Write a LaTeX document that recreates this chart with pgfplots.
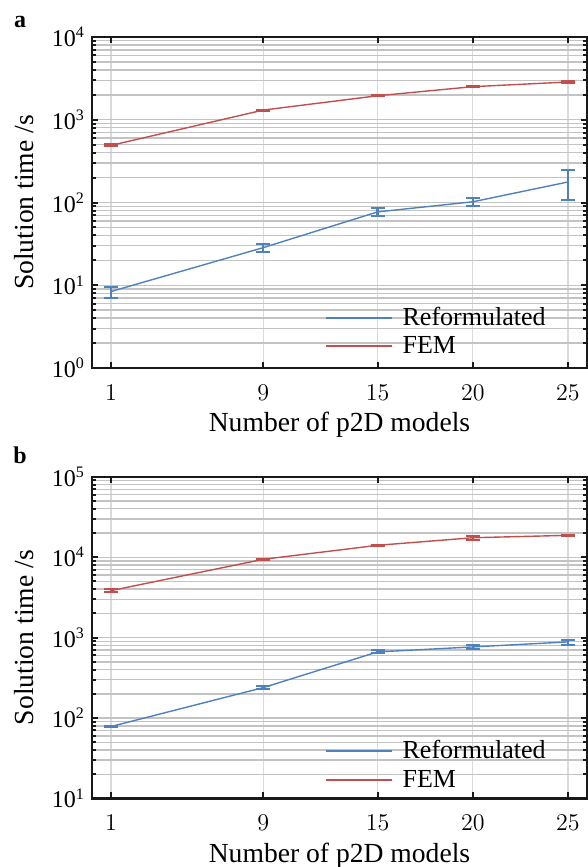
\documentclass[border=0pt]{standalone}
\usepackage{fontspec}
\setmainfont{Liberation Serif}
\usepackage{pgfplots}
\usepackage{pgfplotstable}
\pgfplotsset{compat=1.18}

\definecolor{cblue}{RGB}{79,129,189}
\definecolor{cred}{RGB}{192,80,77}
\definecolor{gridc}{RGB}{195,195,195}
\definecolor{xgridc}{RGB}{218,218,218}

\pgfplotstableread{
x y ep em
1 8.4 1.0 1.4
9 28.5 3.3 3.0
15 77 10 8.5
20 102 12 11
25 177 70 71
}\refA
\pgfplotstableread{
x y ep em
1 490 14 14
9 1310 20 20
15 1950 25 25
20 2510 30 30
25 2860 90 90
}\femA
\pgfplotstableread{
x y ep em
1 78.4 2 2
9 239 8 8
15 664 28 25
20 766 50 48
25 884 60 65
}\refB
\pgfplotstableread{
x y ep em
1 3840 200 200
9 9420 100 100
15 14060 150 150
20 17460 1000 1000
25 18710 300 300
}\femB

\pgfplotsset{
  myax/.style={
    scale only axis, width=247.5pt,
    xmin=0, xmax=26,
    xtick={1,9,15,20,25},
    axis line style={line width=1.3pt, black!90},
    tick style={black!90, line width=1pt},
    major tick length=3pt, minor tick length=2pt,
    ymajorgrids, yminorgrids, xmajorgrids,
    y grid style={gridc, line width=0.7pt},
    x grid style={xgridc, line width=0.6pt},
    tick label style={font=\fontsize{12}{14}\selectfont},
    xticklabel style={yshift=-5pt},
    label style={font=\fontsize{13.8}{16}\selectfont},
    xlabel={Number of p2D models},
    ylabel={Solution time /s},
    xlabel style={yshift=1pt},
    ylabel style={yshift=2pt},
    legend style={draw=none, fill=none, font=\fontsize{13}{15}\selectfont, row sep=0pt,
      cells={anchor=west}},
    legend cell align=left,
  },
  ebB/.style={cblue, line width=0.7pt, forget plot, error bars/.cd, y dir=both, y explicit,
    error bar style={cblue, line width=1.1pt},
    error mark options={cblue, rotate=90, mark size=3.5pt, line width=1pt}},
  ebR/.style={cred, line width=0.7pt, forget plot, error bars/.cd, y dir=both, y explicit,
    error bar style={cred, line width=1.1pt},
    error mark options={cred, rotate=90, mark size=3.5pt, line width=1pt}},
  legB/.style={legend image code/.code={\draw[cblue, line width=1pt] (0pt,0pt) -- (33pt,0pt);}},
  legR/.style={legend image code/.code={\draw[cred, line width=1pt] (0pt,0pt) -- (33pt,0pt);}},
}

\begin{document}
\begin{tikzpicture}
\path (0,0) rectangle (294pt,-433.5pt);
\node[font=\bfseries\fontsize{12}{14}\selectfont] at (10pt,-11pt) {a};
\node[font=\bfseries\fontsize{12}{14}\selectfont] at (10pt,-227.5pt) {b};

\begin{semilogyaxis}[set layers=standard, myax, height=165.5pt, at={(46pt,-184pt)}, anchor=south west,
  ymin=1, ymax=10000,
  ytick={1,10,100,1000,10000},
  yticklabels={10\textsuperscript{0},10\textsuperscript{1},10\textsuperscript{2},10\textsuperscript{3},10\textsuperscript{4}},
  legend style={at={(0.457,0.01)}, anchor=south west},
]
\addplot[ebB] table[x=x, y=y, y error plus=ep, y error minus=em] {\refA};
\addplot[ebR] table[x=x, y=y, y error plus=ep, y error minus=em] {\femA};
\addlegendimage{legB}
\addlegendentry{\hspace{3pt}Reformulated}
\addlegendimage{legR}
\addlegendentry{\hspace{3pt}FEM}
\end{semilogyaxis}

\begin{semilogyaxis}[set layers=standard, myax, height=160.8pt, at={(46pt,-399.2pt)}, anchor=south west,
  ymin=10, ymax=100000,
  ytick={10,100,1000,10000,100000},
  yticklabels={10\textsuperscript{1},10\textsuperscript{2},10\textsuperscript{3},10\textsuperscript{4},10\textsuperscript{5}},
  legend style={at={(0.457,0.0)}, anchor=south west},
]
\addplot[ebB] table[x=x, y=y, y error plus=ep, y error minus=em] {\refB};
\addplot[ebR] table[x=x, y=y, y error plus=ep, y error minus=em] {\femB};
\addlegendimage{legB}
\addlegendentry{\hspace{3pt}Reformulated}
\addlegendimage{legR}
\addlegendentry{\hspace{3pt}FEM}
\end{semilogyaxis}
\pgfresetboundingbox
\useasboundingbox (0,0) rectangle (294pt,-433.5pt);
\end{tikzpicture}
\end{document}
